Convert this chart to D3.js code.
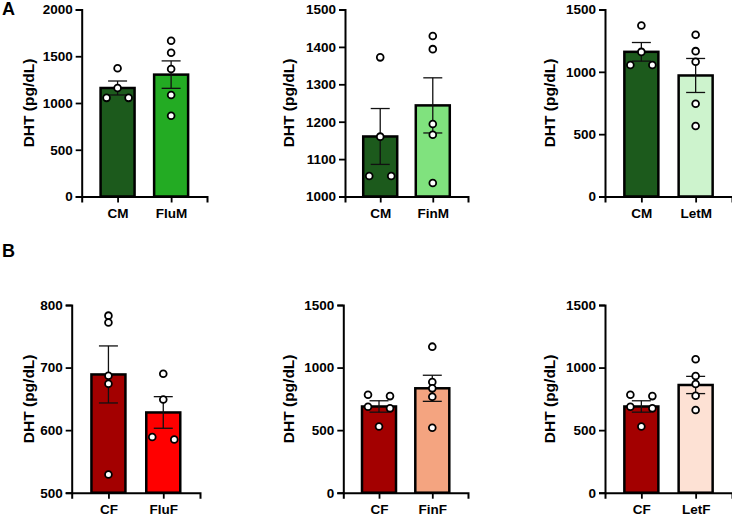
<!DOCTYPE html>
<html>
<head>
<meta charset="utf-8">
<script src="https://cdn.jsdelivr.net/npm/d3@7"></script>
<style>
  body { margin: 0; background: #fff; }
  svg text { font-family: 'Liberation Sans', Arial, sans-serif; font-weight: bold; fill: #000; }
</style>
</head>
<body>
<div id="chart"></div>
<script>
// DHT per group, pg/dL (one value per animal)
var cmValues = [1372, 1160, 1055, 1055]
var flumValues = [1666, 1538, 1364, 1086, 864]
var finmValues = [1429, 1394, 1194, 1165, 1036]
var letmValues = [1297, 1166, 1081, 744, 566]
var cfValues = [783, 772, 687, 674, 529]
var flufValues = [690, 649, 589, 585]
var finfValues = [1167, 885, 834, 767, 519]
var letfValues = [1066, 933, 869, 775, 661]

var ticks2000 = [0, 500, 1000, 1500, 2000]
var ticks1000to1500 = [1000, 1100, 1200, 1300, 1400, 1500]
var ticks1500 = [0, 500, 1000, 1500]
var ticks500to800 = [500, 600, 700, 800]

var yLabel = 'DHT (pg/dL)'

var fillColors = {
  'CM': '#1c5a1c',
  'FluM': '#23ab23',
  'FinM': '#80e27e',
  'LetM': '#cdf3cd',
  'CF': '#a30000',
  'FluF': '#ff0000',
  'FinF': '#f4a480',
  'LetF': '#fde1d4'
}

var panels = [
  { letter: 'A', groups: [['CM', cmValues], ['FluM', flumValues]], ticks: ticks2000 },
  { groups: [['CM', cmValues], ['FinM', finmValues]], ticks: ticks1000to1500 },
  { groups: [['CM', cmValues], ['LetM', letmValues]], ticks: ticks1500 },
  { letter: 'B', groups: [['CF', cfValues], ['FluF', flufValues]], ticks: ticks500to800 },
  { groups: [['CF', cfValues], ['FinF', finfValues]], ticks: ticks1500 },
  { groups: [['CF', cfValues], ['LetF', letfValues]], ticks: ticks1500 }
]

// page placement of each panel
var layout = [
  { left: 81.7, right: 207, top: 9.5, bottom: 196.5, labelX: 28.5, letterY: 15 },
  { left: 345, right: 468, top: 9.5, bottom: 196.5, labelX: 288.5 },
  { left: 605, right: 732, top: 9.5, bottom: 196.5, labelX: 550 },
  { left: 71.7, right: 200, top: 305, bottom: 492.7, labelX: 28.5, letterY: 257 },
  { left: 343.3, right: 468, top: 305, bottom: 492.7, labelX: 288.5 },
  { left: 605, right: 732, top: 305, bottom: 492.7, labelX: 550 }
]

var barWidth = 34
var capHalf = 9.5
var dotRadius = 3.4
var dotSpacing = 11

var svg = d3.select('#chart')
  .append('svg')
  .attr('width', 732)
  .attr('height', 517)

function sem (values) {
  return d3.deviation(values) / Math.sqrt(values.length)
}

// spread near-overlapping dots sideways, like a small column scatter
function dotOffsets (values, yScale) {
  var order = values.map(function (v, i) { return i })
    .sort(function (a, b) { return values[b] - values[a] })
  var offsets = values.map(function () { return 0 })
  var clusters = []
  order.forEach(function (idx) {
    var last = clusters[clusters.length - 1]
    if (last && Math.abs(yScale(values[idx]) - yScale(values[last[last.length - 1]])) < 6) {
      last.push(idx)
    } else {
      clusters.push([idx])
    }
  })
  clusters.forEach(function (c) {
    var slots = c.length === 1 ? [0] : c.length === 2 ? [-1, 1] : d3.range(c.length).map(function (i) { return i - (c.length - 1) / 2 })
    c.forEach(function (idx, i) { offsets[idx] = slots[i] * dotSpacing })
  })
  return offsets
}

panels.forEach(function (panel, p) {
  var box = layout[p]
  var g = svg.append('g')

  var xScale = d3.scalePoint()
    .domain(panel.groups.map(function (d) { return d[0] }))
    .range([box.left, box.right])
    .padding(0.67)

  var yScale = d3.scaleLinear()
    .domain(d3.extent(panel.ticks))
    .range([box.bottom, box.top])

  var stats = panel.groups.map(function (d) {
    var m = d3.mean(d[1])
    var s = sem(d[1])
    return { name: d[0], values: d[1], mean: m, lo: m - s, hi: m + s }
  })

  // bars
  g.selectAll('.bar')
    .data(stats)
    .enter()
    .append('rect')
    .attr('class', 'bar')
    .attr('x', function (d) { return xScale(d.name) - barWidth / 2 })
    .attr('y', function (d) { return yScale(d.mean) })
    .attr('width', barWidth)
    .attr('height', function (d) { return yScale(yScale.domain()[0]) - yScale(d.mean) })
    .style('fill', function (d) { return fillColors[d.name] })
    .style('stroke', '#000')
    .style('stroke-width', 2.5)

  // SEM error bars
  var err = g.selectAll('.err')
    .data(stats)
    .enter()
    .append('g')
    .attr('class', 'err')
    .style('stroke', '#111')
    .style('stroke-width', 1.3)
  err.append('line')
    .attr('x1', function (d) { return xScale(d.name) })
    .attr('x2', function (d) { return xScale(d.name) })
    .attr('y1', function (d) { return yScale(d.lo) })
    .attr('y2', function (d) { return yScale(d.hi) })
  err.append('line')
    .attr('x1', function (d) { return xScale(d.name) - capHalf })
    .attr('x2', function (d) { return xScale(d.name) + capHalf })
    .attr('y1', function (d) { return yScale(d.hi) })
    .attr('y2', function (d) { return yScale(d.hi) })
  err.append('line')
    .attr('x1', function (d) { return xScale(d.name) - capHalf })
    .attr('x2', function (d) { return xScale(d.name) + capHalf })
    .attr('y1', function (d) { return yScale(d.lo) })
    .attr('y2', function (d) { return yScale(d.lo) })

  // individual animals
  stats.forEach(function (s) {
    var offs = dotOffsets(s.values, yScale)
    g.selectAll(null)
      .data(s.values)
      .enter()
      .append('circle')
      .attr('cx', function (v, i) { return xScale(s.name) + offs[i] })
      .attr('cy', function (v) { return yScale(v) })
      .attr('r', dotRadius)
      .style('fill', '#fff')
      .style('stroke', '#000')
      .style('stroke-width', 1.8)
  })

  // axes
  var yAxis = d3.axisLeft(yScale)
    .tickValues(panel.ticks)
    .tickFormat(d3.format('d'))
    .tickSizeOuter(0)
    .tickSize(6)
    .tickPadding(3)
  var yg = g.append('g')
    .attr('transform', 'translate(' + box.left + ',0)')
    .call(yAxis)

  var xAxis = d3.axisBottom(xScale)
    .tickSizeOuter(0)
    .tickSize(6)
    .tickPadding(6)
  var xg = g.append('g')
    .attr('transform', 'translate(0,' + box.bottom + ')')
    .call(xAxis)

  ;[yg, xg].forEach(function (ax) {
    ax.select('.domain').style('stroke', '#000').style('stroke-width', 2)
    ax.selectAll('.tick line').style('stroke', '#000').style('stroke-width', 1.8)
    ax.selectAll('.tick text').style('font-size', '13.5px').style('font-family', null)
  })

  g.append('text')
    .attr('transform', 'translate(' + box.labelX + ',' + (box.top + box.bottom) / 2 + ') rotate(-90)')
    .attr('text-anchor', 'middle')
    .attr('dy', '0.35em')
    .style('font-size', '15.5px')
    .text(yLabel)

  if (panel.letter) {
    g.append('text')
      .attr('x', 2)
      .attr('y', box.letterY)
      .style('font-size', '18px')
      .text(panel.letter)
  }
})
</script>
</body>
</html>
